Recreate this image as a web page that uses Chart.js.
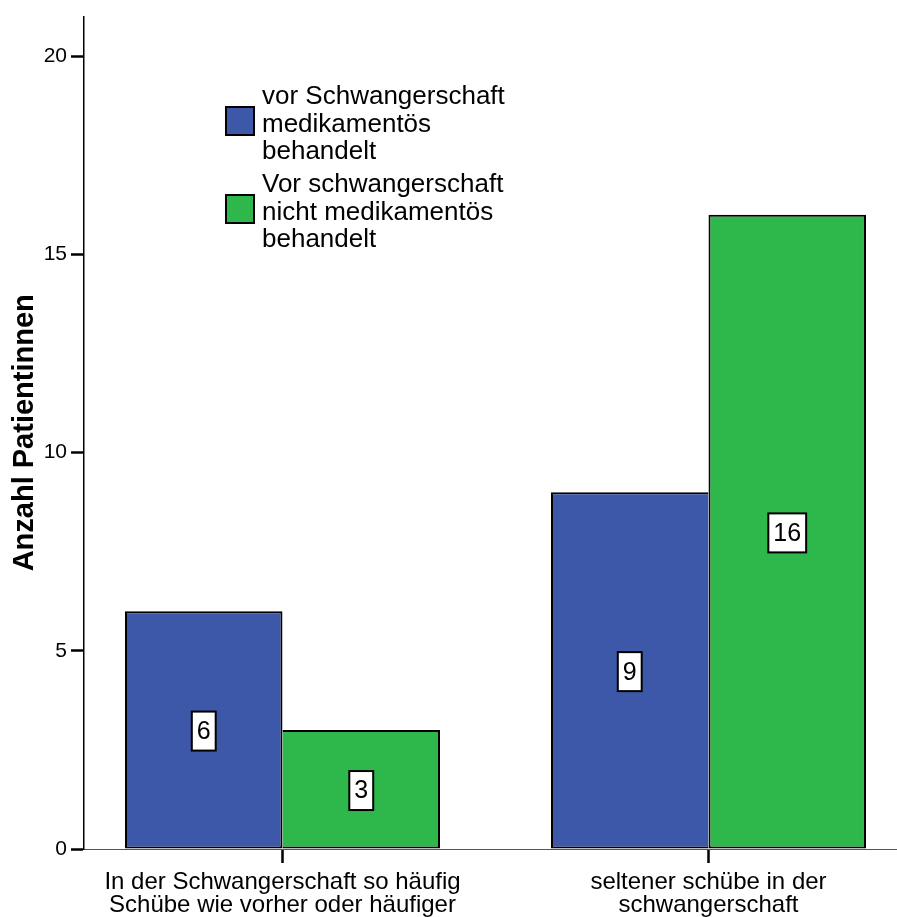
<!DOCTYPE html>
<html>
<head>
<meta charset="utf-8">
<script src="https://cdn.jsdelivr.net/npm/chart.js@4/dist/chart.umd.min.js"></script>
<style>
  html, body { margin: 0; padding: 0; background: #ffffff; }
  #wrap { width: 897px; height: 917px; }
</style>
</head>
<body>
<div id="wrap"><canvas id="chart" width="897" height="917"></canvas></div>
<script>
// Category labels (one array of lines per category)
const categories = [
  ['In der Schwangerschaft so häufig', 'Schübe wie vorher oder häufiger'],
  ['seltener schübe in der', 'schwangerschaft']
];
// Series names (one array of lines per series)
const seriesNames = [
  ['vor Schwangerschaft', 'medikamentös', 'behandelt'],
  ['Vor schwangerschaft', 'nicht medikamentös', 'behandelt']
];
// Patient counts per category
const treatedCounts = [6, 9];
const untreatedCounts = [3, 16];
// Y axis ticks
const yTickValues = [0, 5, 10, 15, 20];
const yAxisTitle = 'Anzahl Patientinnen';

const FONT = "'Liberation Sans', Arial, Helvetica, sans-serif";
const BLUE = '#3E58A9';
const GREEN = '#2EB84B';

const toPoints = arr => arr.map((v, i) => ({ x: i, y: v }));

// The taller bar of a pair carries the shared middle border
function sharedBorder(own, other, side) {
  return ctx => {
    const i = ctx.dataIndex;
    const mine = own[i], theirs = other[i];
    const w = { top: 2, bottom: 2, left: 2, right: 2 };
    w[side] = (mine >= theirs && !(mine === theirs && side === 'left')) ? 2 : 0;
    return w;
  };
}

// Legend with multi-line series names
const multiLineLegend = {
  id: 'multiLineLegend',
  afterDraw(chart, args, opts) {
    const ctx = chart.ctx;
    ctx.save();
    chart.data.datasets.forEach((ds, i) => {
      const boxTop = opts.top + i * opts.gap;
      const boxCenter = boxTop + opts.box / 2;
      ctx.fillStyle = ds.backgroundColor;
      ctx.fillRect(opts.left, boxTop, opts.box, opts.box);
      ctx.lineWidth = 2;
      ctx.strokeStyle = '#000';
      ctx.strokeRect(opts.left, boxTop, opts.box, opts.box);
      ctx.fillStyle = '#000';
      ctx.font = opts.fontSize + 'px ' + FONT;
      ctx.textBaseline = 'alphabetic';
      ctx.textAlign = 'left';
      const lines = ds.nameLines;
      const mid = (lines.length - 1) / 2;
      lines.forEach((line, k) => {
        const baseline = boxCenter + opts.capOffset + (k - mid) * opts.lineHeight;
        ctx.fillText(line, opts.textLeft, baseline);
      });
    });
    ctx.restore();
  }
};

// Boxed value labels centred in each bar
const boxedValues = {
  id: 'boxedValues',
  afterDatasetsDraw(chart) {
    const ctx = chart.ctx;
    const yScale = chart.scales.y;
    ctx.save();
    ctx.font = '25px ' + FONT;
    ctx.textAlign = 'center';
    ctx.textBaseline = 'middle';
    chart.data.datasets.forEach((ds, di) => {
      const meta = chart.getDatasetMeta(di);
      meta.data.forEach((bar, i) => {
        const value = ds.data[i].y;
        const cx = bar.x;
        const cy = yScale.getPixelForValue(value / 2) + 1;
        const label = String(value);
        const w = ctx.measureText(label).width + 10;
        const h = 39;
        ctx.fillStyle = '#ffffff';
        ctx.fillRect(cx - w / 2, cy - h / 2, w, h);
        ctx.lineWidth = 2;
        ctx.strokeStyle = '#000';
        ctx.strokeRect(cx - w / 2, cy - h / 2, w, h);
        ctx.fillStyle = '#000';
        ctx.fillText(label, cx, cy + 1);
      });
    });
    ctx.restore();
  }
};

new Chart(document.getElementById('chart'), {
  type: 'bar',
  data: {
    datasets: [
      {
        label: seriesNames[0].join(' '),
        nameLines: seriesNames[0],
        data: toPoints(treatedCounts),
        backgroundColor: BLUE,
        borderColor: '#000',
        borderSkipped: false,
        borderWidth: sharedBorder(treatedCounts, untreatedCounts, 'right')
      },
      {
        label: seriesNames[1].join(' '),
        nameLines: seriesNames[1],
        data: toPoints(untreatedCounts),
        backgroundColor: GREEN,
        borderColor: '#000',
        borderSkipped: false,
        borderWidth: sharedBorder(untreatedCounts, treatedCounts, 'left')
      }
    ]
  },
  options: {
    responsive: false,
    animation: false,
    events: [],
    layout: { padding: { top: 12, right: 0, bottom: 0, left: 0 } },
    datasets: {
      bar: { categoryPercentage: 0.7394, barPercentage: 1 }
    },
    scales: {
      x: {
        type: 'linear',
        offset: false,
        min: -0.46596,
        max: 1.4425,
        afterBuildTicks: s => { s.ticks = categories.map((_, i) => ({ value: i })); },
        afterFit: s => { s.height = 68; },
        ticks: {
          autoSkip: false,
          maxRotation: 0,
          padding: 8,
          color: '#000',
          font: { family: FONT, size: 24, lineHeight: '23px' },
          callback: v => categories[v]
        },
        grid: {
          offset: false,
          drawOnChartArea: false,
          drawTicks: true,
          tickLength: 14,
          tickWidth: 2.5,
          tickColor: '#000'
        },
        border: { display: true, color: '#555', width: 1 }
      },
      y: {
        min: 0,
        max: 21,
        afterBuildTicks: s => { s.ticks = yTickValues.map(v => ({ value: v })); },
        afterFit: s => { s.width = 84; },
        ticks: {
          padding: 4,
          color: '#000',
          font: { family: FONT, size: 21 }
        },
        grid: {
          drawOnChartArea: false,
          drawTicks: true,
          tickLength: 13,
          tickWidth: 2.5,
          tickColor: '#000'
        },
        border: { display: true, color: '#000', width: 1.5 },
        title: {
          display: true,
          text: yAxisTitle,
          color: '#000',
          font: { family: FONT, size: 29, weight: 'bold' },
          padding: { top: 8, bottom: 0 }
        }
      }
    },
    plugins: {
      legend: { display: false },
      tooltip: { enabled: false },
      multiLineLegend: {
        left: 226, top: 107, box: 28, gap: 88,
        textLeft: 262, fontSize: 26, lineHeight: 27.4, capOffset: 10.5
      }
    }
  },
  plugins: [multiLineLegend, boxedValues]
});
</script>
</body>
</html>
